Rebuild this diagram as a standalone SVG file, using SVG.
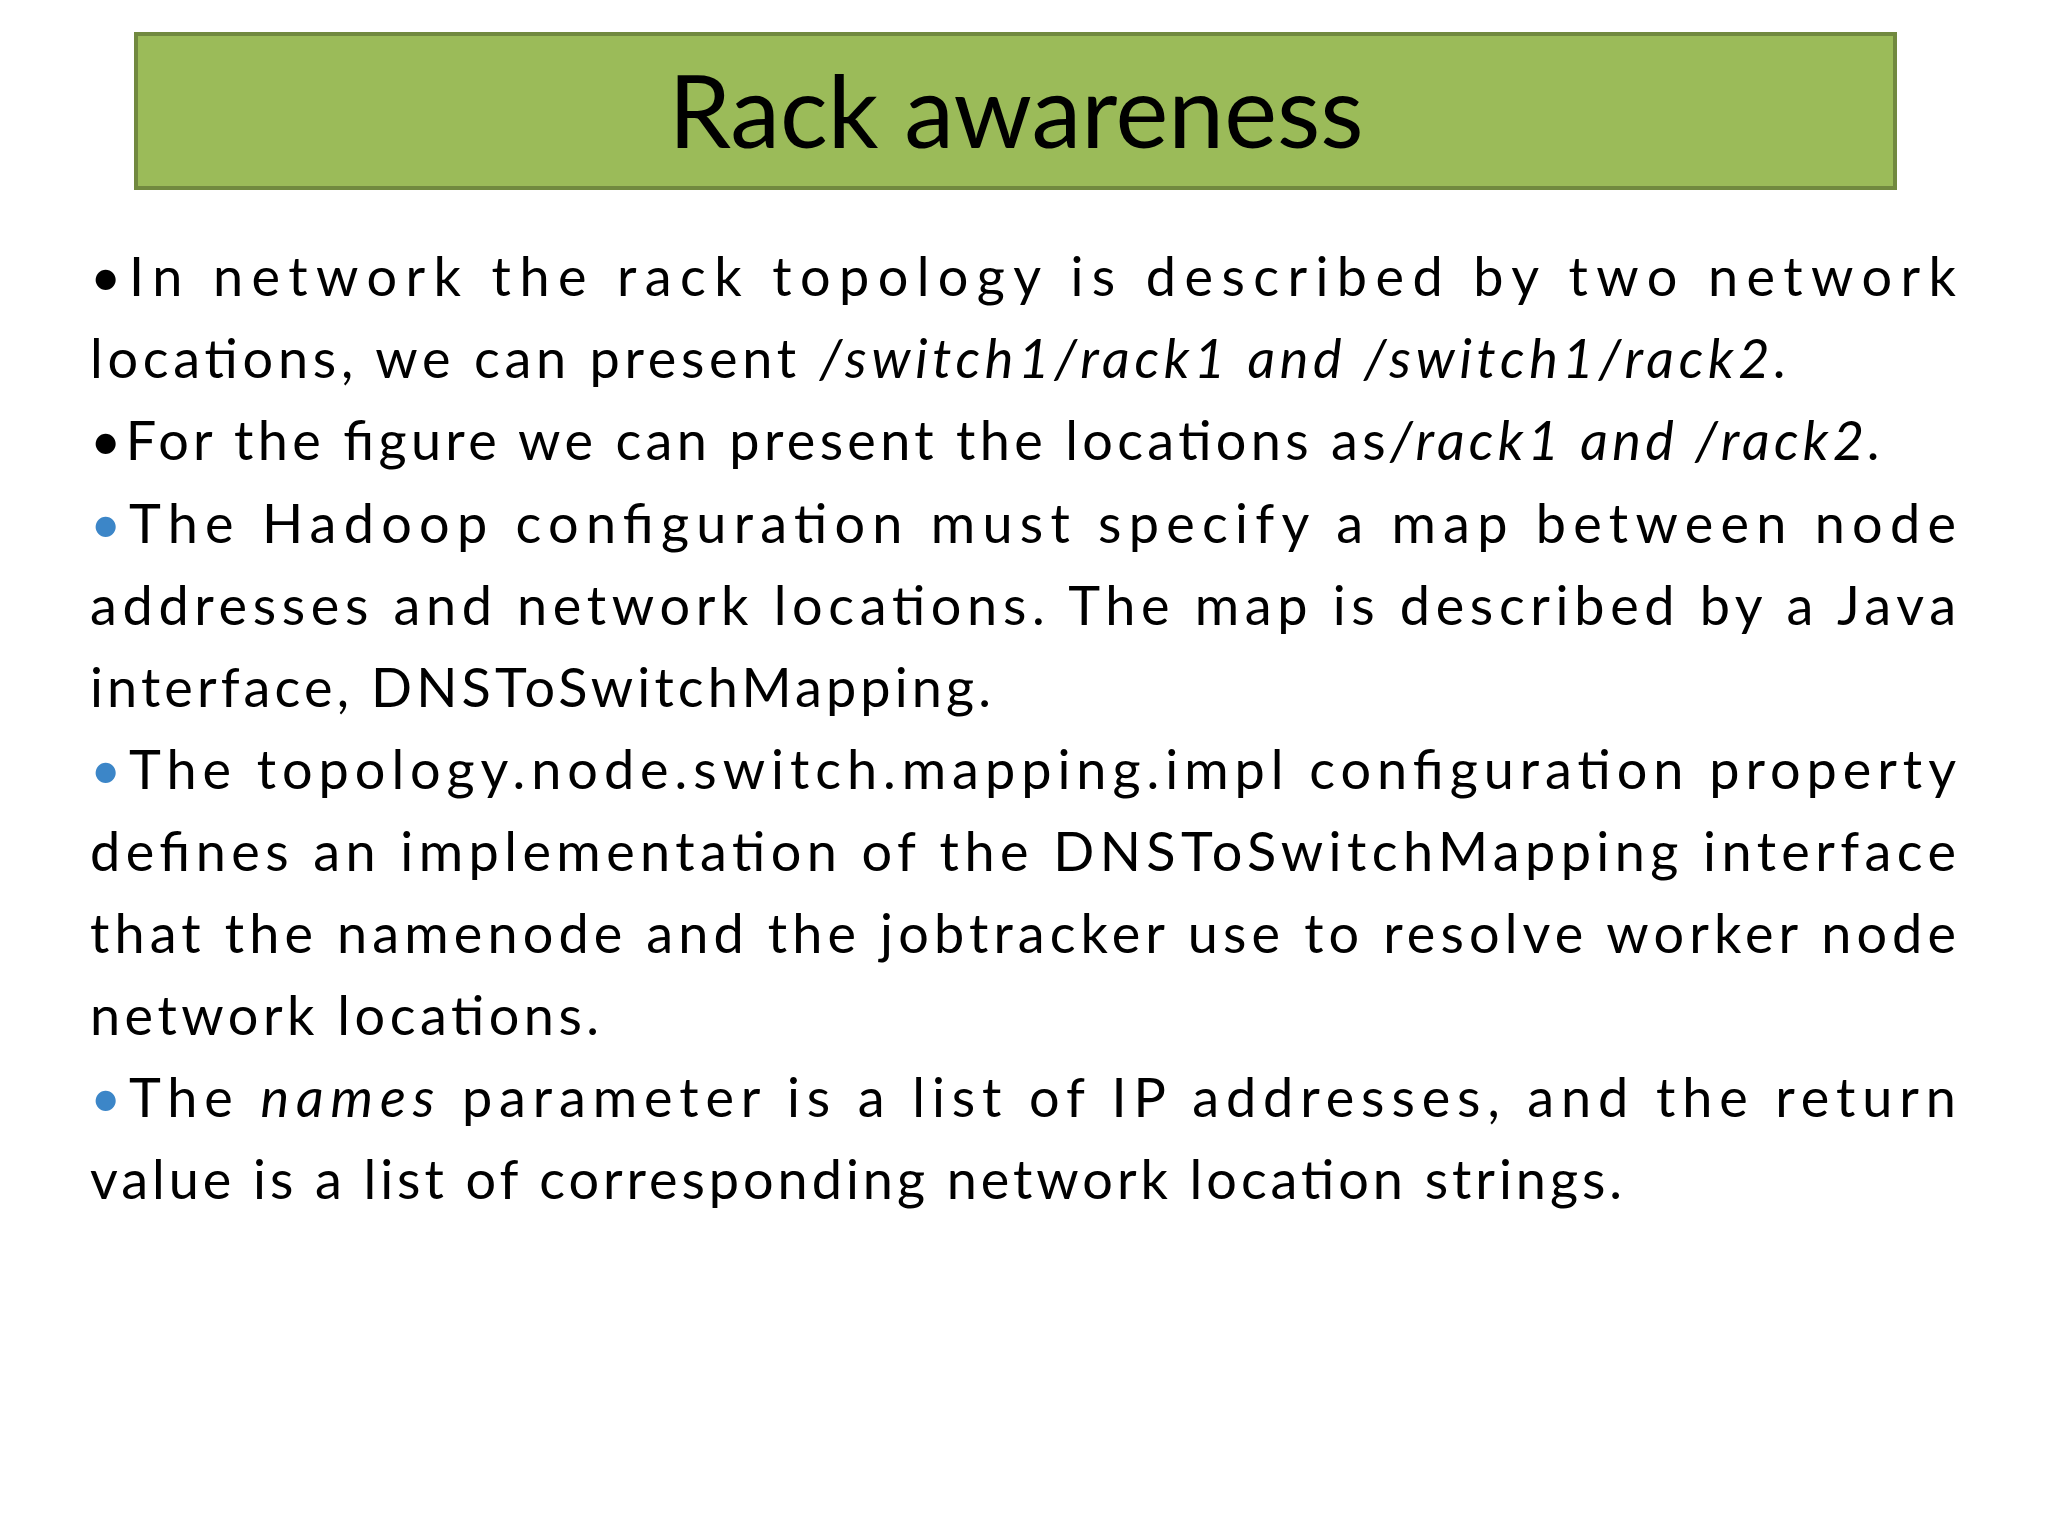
<svg xmlns="http://www.w3.org/2000/svg" width="2048" height="1536" viewBox="0 0 2048 1536">
<style>
.t{font-family:Lato,"Open Sans","Liberation Sans",sans-serif;font-size:54px;fill:#000}
.b{fill:#3C86C8}
.i{font-style:italic}
</style>
<rect width="2048" height="1536" fill="#fff"/>
<g id="title">
<rect x="136" y="34" width="1759" height="154" fill="#9BBB59" stroke="#71893F" stroke-width="4"/>
<text x="1016" y="148" text-anchor="middle" font-family="Lato,'Open Sans','Liberation Sans',sans-serif" font-size="100" fill="#000">Rack awareness</text>
</g>
<g id="body" class="t">
<text x="90" y="296">•</text>
<text x="129" y="296" textLength="1827" lengthAdjust="spacing">In network the rack topology is described by two network</text>
<text x="90" y="378" textLength="1697" lengthAdjust="spacing">locations, we can present <tspan class="i">/switch1/rack1 and /switch1/rack2.</tspan></text>
<text x="90" y="460" textLength="1791" lengthAdjust="spacing">•For the figure we can present the locations as<tspan class="i">/rack1 and /rack2.</tspan></text>
<text x="90" y="543" class="b">•</text>
<text x="129" y="543" textLength="1827" lengthAdjust="spacing">The Hadoop configuration must specify a map between node</text>
<text x="90" y="625" textLength="1866" lengthAdjust="spacing">addresses and network locations. The map is described by a Java</text>
<text x="90" y="707" textLength="901" lengthAdjust="spacing">interface, DNSToSwitchMapping.</text>
<text x="90" y="789" class="b">•</text>
<text x="129" y="789" textLength="1827" lengthAdjust="spacing">The topology.node.switch.mapping.impl configuration property</text>
<text x="90" y="871" textLength="1866" lengthAdjust="spacing">defines an implementation of the DNSToSwitchMapping interface</text>
<text x="90" y="953" textLength="1866" lengthAdjust="spacing">that the namenode and the jobtracker use to resolve worker node</text>
<text x="90" y="1035" textLength="509" lengthAdjust="spacing">network locations.</text>
<text x="90" y="1117" class="b">•</text>
<text x="129" y="1117" textLength="1827" lengthAdjust="spacing">The <tspan class="i">names</tspan> parameter is a list of IP addresses, and the return</text>
<text x="90" y="1199" textLength="1532" lengthAdjust="spacing">value is a list of corresponding network location strings.</text>
</g>
</svg>
